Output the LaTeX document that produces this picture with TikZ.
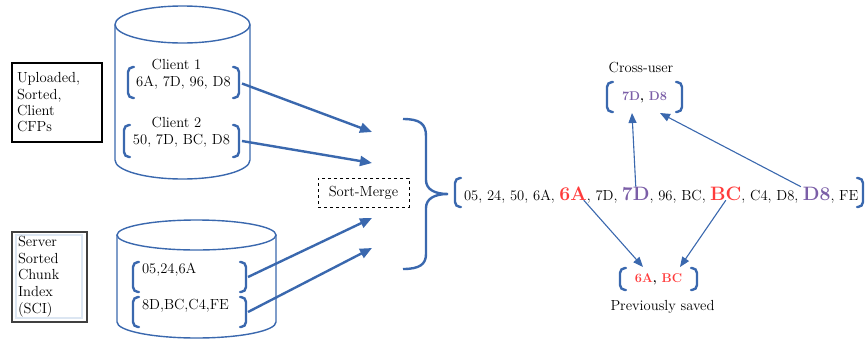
\documentclass[tikz,border=0pt]{standalone}
\usetikzlibrary{arrows.meta,calc}
\definecolor{cblue}{HTML}{3A68AE}
\definecolor{cred}{HTML}{FF3B3B}
\definecolor{cpurple}{HTML}{7B5EA7}
\definecolor{lblue}{HTML}{DCE6F2}
\newcommand\drawbrk[1]{%
  \draw[brkline] ([xshift=6pt]#1.north west) -- (#1.north west) -- (#1.south west) -- ([xshift=6pt]#1.south west);
  \draw[brkline] ([xshift=-6pt]#1.north east) -- (#1.north east) -- (#1.south east) -- ([xshift=-6pt]#1.south east);}
\begin{document}
\begin{tikzpicture}[x=1pt,y=-1pt,
  every node/.style={font=\fontsize{14.6}{16.5}\selectfont, inner sep=0pt, outer sep=0pt},
  brkline/.style={cblue, line width=2.4pt, rounded corners=5pt, line cap=round},
  cyl/.style={cblue, line width=1.4pt},
  fat/.style={cblue, line width=2.4pt, -{Triangle[length=12pt,width=10pt]}},
  slim/.style={cblue, line width=1.1pt, -{Triangle[length=10pt,width=8pt]}},
  big/.style={font=\fontsize{19.4}{22}\selectfont\bfseries},
  small/.style={font=\fontsize{12.7}{15}\selectfont\bfseries},
]
\useasboundingbox (0,0) rectangle (868,341);

% left labels
\node[draw, line width=1.2pt, anchor=north west, minimum width=90pt, minimum height=79pt,
      text width=80pt, align=left, font=\fontsize{14.6}{16.3}\selectfont] (up) at (12,63)
  {Uploaded,\\Sorted,\\Client\\CFPs};
\node[draw=lblue, line width=1.6pt, anchor=north west, minimum width=66pt, minimum height=83pt,
      text width=62pt, align=left, font=\fontsize{14.6}{16.7}\selectfont] (sci) at (16,235)
  {Server\\Sorted\\Chunk\\Index\\(SCI)};
\draw[black!75, line width=1.4pt] (12,232) rectangle (87,322);

% top cylinder
\draw[cyl] (182.5,24.5) ellipse [x radius=67.5pt, y radius=18.5pt];
\draw[cyl] (115,24.5) -- (115,160) arc[start angle=180, end angle=360, x radius=67.5pt, y radius=19pt] -- (250,24.5);
% bottom cylinder
\draw[cyl] (196.5,235) ellipse [x radius=79.5pt, y radius=15pt];
\draw[cyl] (117,235) -- (117,322) arc[start angle=180, end angle=360, x radius=79.5pt, y radius=16pt] -- (276,235);

% client groups
\node[minimum width=111pt, minimum height=31pt] (c1) at (183.5,82.5) {6A, 7D, 96, D8};
\node (c1l) at (176.5,65) {Client 1};
\drawbrk{c1}
\node[minimum width=115pt, minimum height=32pt] (c2) at (181.5,141) {50, 7D, BC, D8};
\node (c2l) at (176.5,123) {Client 2};
\drawbrk{c2}

% server groups
\node[minimum width=113pt, minimum height=30pt] (s1g) at (189.5,277) {};
\node[anchor=base west] (s1t) at (142,273) {05,24,6A};
\drawbrk{s1g}
\node[minimum width=113pt, minimum height=30pt] (s2g) at (189.5,312) {};
\node[anchor=base west] (s2t) at (142,309.5) {8D,BC,C4,FE};
\drawbrk{s2g}

% sort-merge
\node[draw, dashed, line width=0.9pt, minimum width=91pt, minimum height=29pt] (sm) at (363.5,192.5) {Sort-Merge};
\coordinate (m1) at (372,132);
\coordinate (m2) at (372,163);
\coordinate (m3) at (372,218);
\coordinate (m4) at (372,248);
\draw[fat] ([xshift=3pt,yshift=-1pt]c1.east) -- (m1);
\draw[fat] ([xshift=3pt]c2.east) -- (m2);
\draw[fat] ([xshift=2pt]s1g.east) -- (m3);
\draw[fat] ([xshift=2pt]s2g.east) -- (m4);

% brace
\draw[cblue, line width=2.4pt] (403,119) .. controls (420,119) and (426,124) .. (426,136) -- (426,180)
  .. controls (426,189) and (434,194) .. (448,194)
  .. controls (434,194) and (426,199) .. (426,208) -- (426,254)
  .. controls (426,264) and (420,269) .. (403,269);

% main sequence
\node[minimum width=408pt, minimum height=29pt] (mb) at (659,192.5) {};
\drawbrk{mb}
\node[anchor=base west] (q1) at (464,200) {05, 24, 50, 6A,};
\node[big, text=cred, anchor=base west] (k1) at ([xshift=4.4pt]q1.base east) {6A};
\node[anchor=base west] (q2) at (k1.base east) {, 7D,};
\node[big, text=cpurple, anchor=base west] (k2) at ([xshift=4.4pt]q2.base east) {7D};
\node[anchor=base west] (q3) at (k2.base east) {, 96, BC,};
\node[big, text=cred, anchor=base west] (k3) at ([xshift=4.4pt]q3.base east) {BC};
\node[anchor=base west] (q4) at (k3.base east) {, C4, D8,};
\node[big, text=cpurple, anchor=base west] (k4) at ([xshift=4.4pt]q4.base east) {D8};
\node[anchor=base west] (q5) at (k4.base east) {, FE};

% cross-user
\node (cul) at (641,68) {Cross-user};
\node[small, minimum width=75pt, minimum height=30pt] (cu) at (644.5,97) {\textcolor{cpurple}{7D}, \textcolor{cpurple}{D8}};
\drawbrk{cu}
% previously saved
\node[small, minimum width=77pt, minimum height=22pt] (ps) at (658.5,279) {\textcolor{cred}{6A}, \textcolor{cred}{BC}};
\drawbrk{ps}
\node (psl) at (662.5,307) {Previously saved};

\draw[slim] (k2.north) -- ($(cu.south)+(-12.5,1)$);
\draw[slim] ([xshift=-2pt]k4.north west) -- ($(cu.south)+(15.5,1)$);
\draw[slim] ([xshift=-3pt]k1.south east) -- ($(ps.north)+(-15.5,-1)$);
\draw[slim] (k3.south) -- ($(ps.north)+(21.5,-1)$);
\end{tikzpicture}
\end{document}
